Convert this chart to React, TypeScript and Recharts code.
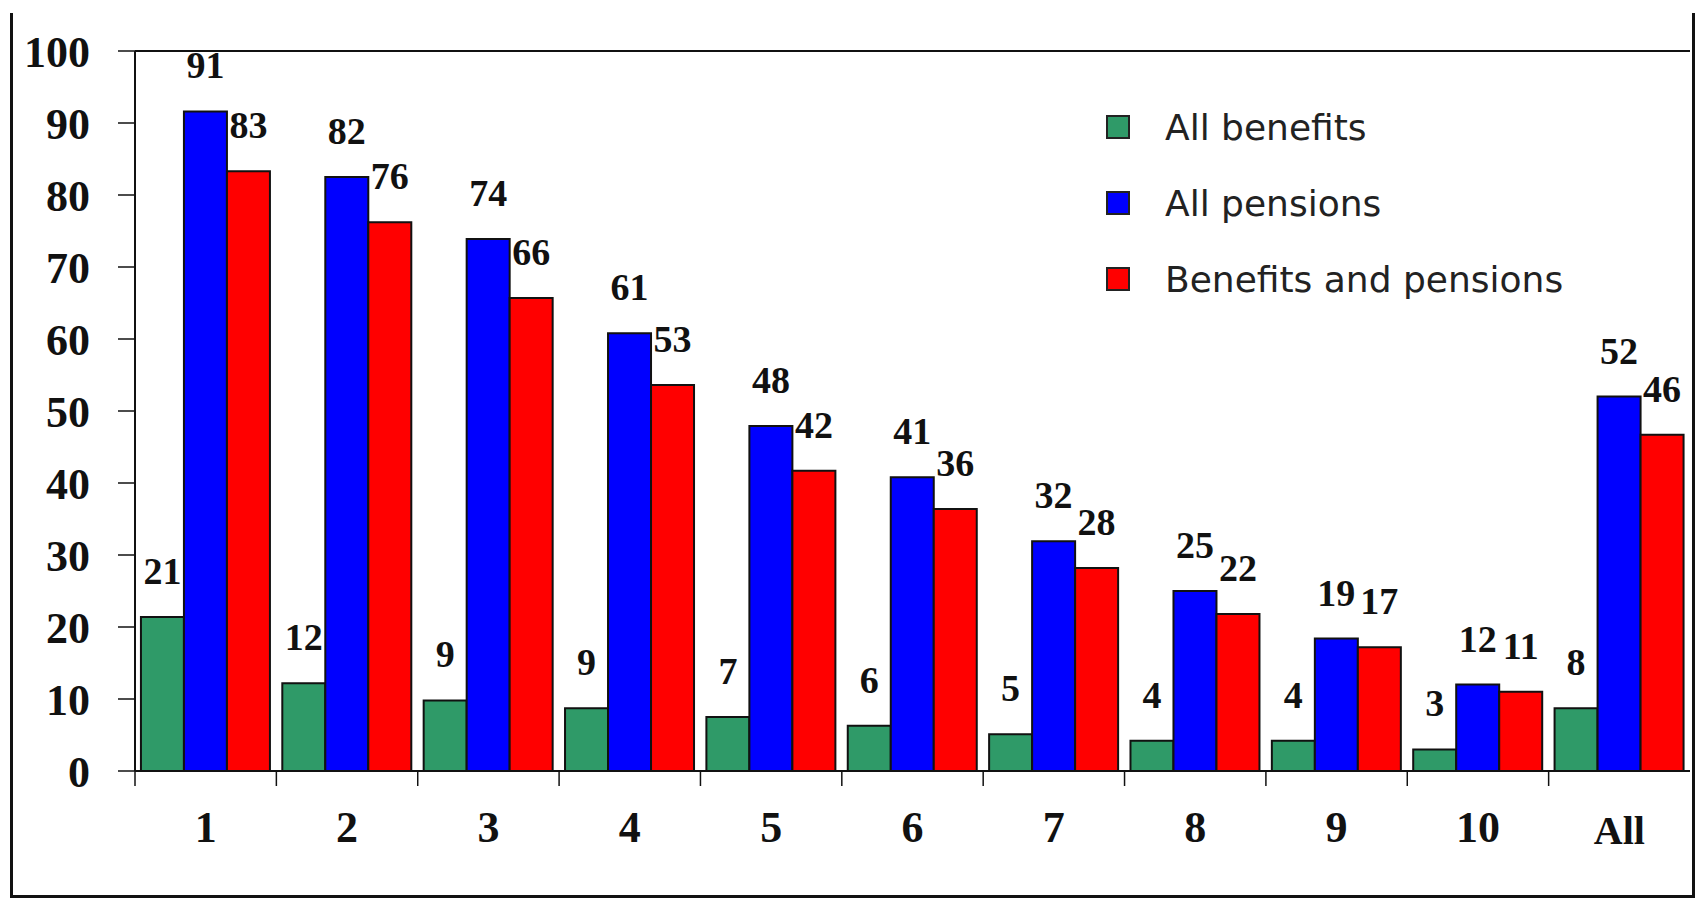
import { BarChart, Bar, XAxis, YAxis, LabelList, Legend, ReferenceLine } from 'recharts'

const groups = ['1', '2', '3', '4', '5', '6', '7', '8', '9', '10', 'All']

// bar heights
const allBenefits = [21.4, 12.2, 9.8, 8.7, 7.5, 6.3, 5.1, 4.2, 4.2, 3.0, 8.7]
const allPensions = [91.6, 82.5, 73.9, 60.8, 47.9, 40.8, 31.9, 25.0, 18.4, 12.0, 52.0]
const benefitsAndPensions = [83.3, 76.2, 65.7, 53.6, 41.7, 36.4, 28.2, 21.8, 17.2, 11.0, 46.7]

// the numbers printed above the bars
const allBenefitsLabels = [21, 12, 9, 9, 7, 6, 5, 4, 4, 3, 8]
const allPensionsLabels = [91, 82, 74, 61, 48, 41, 32, 25, 19, 12, 52]
const bothLabels = [83, 76, 66, 53, 42, 36, 28, 22, 17, 11, 46]

const yTicks = [0, 10, 20, 30, 40, 50, 60, 70, 80, 90, 100]

const SERIF = "'Liberation Serif', 'Times New Roman', serif"
const LABEL_GAP = 40
const EDGE_TICK = 15

const SERIES = [
  { key: 'benefits', label: 'benefitsLabel', name: 'All benefits', color: '#2f9a68' },
  { key: 'pensions', label: 'pensionsLabel', name: 'All pensions', color: '#0000ff' },
  { key: 'both', label: 'bothLabel', name: 'Benefits and pensions', color: '#ff0000' },
]

const data = groups.map((g, i) => ({
  group: g,
  benefits: allBenefits[i],
  pensions: allPensions[i],
  both: benefitsAndPensions[i],
  benefitsLabel: allBenefitsLabels[i],
  pensionsLabel: allPensionsLabels[i],
  bothLabel: bothLabels[i],
}))

// category label plus a small tick mark on the left edge of its band
function GroupTick({ x, y, payload }: any) {
  const small = payload.value === 'All'
  const half = typeof payload.offset === 'number' ? payload.offset : null
  const axisY = y - LABEL_GAP
  return (
    <g>
      {half !== null && (
        <line x1={x - half} x2={x - half} y1={axisY} y2={axisY + EDGE_TICK} stroke="#111" strokeWidth={1.5} />
      )}
      <text
        x={x}
        y={small ? y + 5 : y}
        dy="0.71em"
        textAnchor="middle"
        fontFamily={SERIF}
        fontWeight="bold"
        fontSize={small ? 40 : 44}
        fill="#111"
      >
        {payload.value}
      </text>
    </g>
  )
}

function LegendBox({ payload }: any) {
  return (
    <div style={{ fontFamily: "'DejaVu Sans', sans-serif", fontSize: 36, color: '#222' }}>
      {(payload || []).map((p: any) => (
        <div key={p.value} style={{ display: 'flex', alignItems: 'center', height: 76 }}>
          <span
            style={{
              display: 'inline-block',
              width: 20,
              height: 20,
              background: p.color,
              border: '2px solid #222',
              marginRight: 35,
            }}
          />
          {p.value}
        </div>
      ))}
    </div>
  )
}

export default function App() {
  return (
    <div style={{ position: 'absolute', left: 0, top: 0, width: 1699, height: 903, background: '#fff' }}>
      {/* outer frame */}
      <div
        style={{
          position: 'absolute',
          left: 10,
          top: 13,
          width: 1679,
          height: 882,
          borderLeft: '3px solid #111',
          borderRight: '3px solid #111',
          borderBottom: '3px solid #111',
        }}
      />
      <BarChart
        width={1699}
        height={903}
        data={data}
        margin={{ top: 51, right: 9, bottom: 62, left: 0 }}
        barCategoryGap="4.2%"
        barGap={0}
      >
        <XAxis
          dataKey="group"
          tick={<GroupTick />}
          tickSize={0}
          tickMargin={LABEL_GAP}
          axisLine={{ stroke: '#111', strokeWidth: 2 }}
          height={70}
          interval={0}
        />
        <YAxis
          domain={[0, 100]}
          ticks={yTicks}
          width={135}
          tickSize={17}
          tickMargin={28}
          tickLine={{ stroke: '#111', strokeWidth: 1.5 }}
          axisLine={{ stroke: '#111', strokeWidth: 2 }}
          tick={{ fontFamily: SERIF, fontWeight: 'bold', fontSize: 44, fill: '#111' }}
        />
        <ReferenceLine y={100} stroke="#111" strokeWidth={2} />
        {SERIES.map((s) => (
          <Bar
            key={s.key}
            dataKey={s.key}
            name={s.name}
            fill={s.color}
            stroke="#111"
            strokeWidth={2}
            isAnimationActive={false}
          >
            <LabelList
              dataKey={s.label}
              position="top"
              offset={33}
              fontFamily={SERIF}
              fontWeight="bold"
              fontSize={38}
              fill="#111"
            />
          </Bar>
        ))}
        <Legend
          layout="vertical"
          align="center"
          verticalAlign="middle"
          content={<LegendBox />}
          wrapperStyle={{ left: 1106, top: 89, width: 'auto', height: 'auto' }}
        />
      </BarChart>
    </div>
  )
}
